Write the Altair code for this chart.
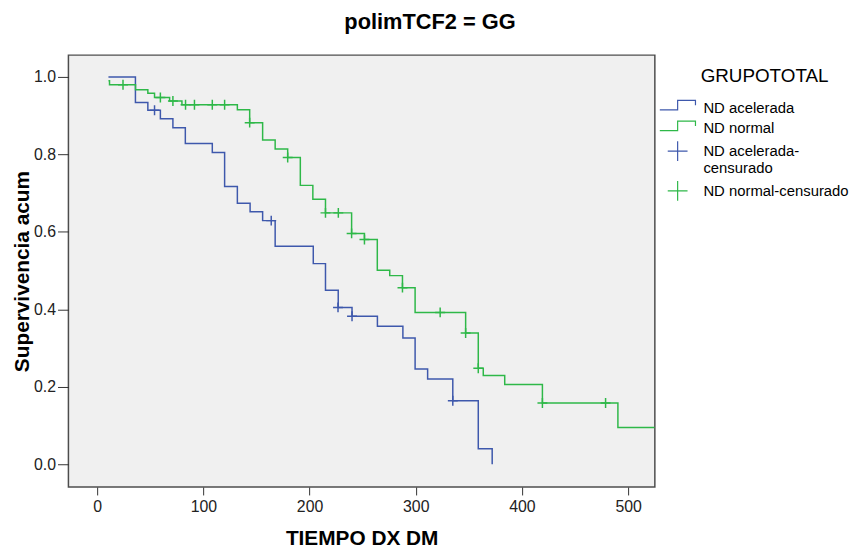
import altair as alt
import pandas as pd

# ---- data (Kaplan-Meier steps) ----
acel_t = [10.6, 36, 47.7, 59.5, 71.3, 83, 108.4, 120, 132, 144, 155.8, 167.6, 203.5, 215,
          227, 240, 263.9, 287.9, 299.4, 311.2, 334.9, 358.9, 372]
acel_s = [1.0, 0.934, 0.914, 0.892, 0.869, 0.828, 0.805, 0.717, 0.674, 0.652, 0.629, 0.563,
          0.518, 0.449, 0.405, 0.382, 0.356, 0.326, 0.246, 0.220, 0.164, 0.040, 0.0]

norm_t = [10.6, 11.6, 36.1, 47.7, 54, 68.2, 79.8, 132, 143.6, 155.8, 167.6, 179.4, 191.3,
          203.1, 215, 239.6, 251.7, 263.8, 275.5, 287.5, 299.4, 347, 358.9, 363.6, 383.8,
          419.3, 490.4, 525]
norm_s = [0.990, 0.980, 0.967, 0.958, 0.947, 0.938, 0.928, 0.915, 0.882, 0.837, 0.814, 0.792,
          0.720, 0.684, 0.649, 0.596, 0.580, 0.501, 0.487, 0.456, 0.392, 0.339, 0.248, 0.229,
          0.206, 0.158, 0.095, 0.095]

acel_cens_t = [54, 163.9, 226.8, 240, 334.9]
acel_cens_s = [0.914, 0.629, 0.405, 0.382, 0.164]

norm_cens_t = [24.3, 59.5, 71.3, 83.2, 91.6, 108.4, 120, 143.6, 179.4, 215, 227.1, 239.6,
               251.7, 287.5, 323, 347, 358.9, 419.3, 478.8]
norm_cens_s = [0.980, 0.947, 0.938, 0.928, 0.928, 0.928, 0.928, 0.882, 0.792, 0.649, 0.649,
               0.596, 0.580, 0.456, 0.392, 0.339, 0.248, 0.158, 0.158]

groups = ["ND acelerada", "ND normal", "ND acelerada-censurado", "ND normal-censurado"]
colors = ["#3E58AC", "#2EB848", "#3E58AC", "#2EB848"]
x_ticks = [0, 100, 200, 300, 400, 500]
y_ticks = [0.0, 0.2, 0.4, 0.6, 0.8, 1.0]

STEP = "M-1.8,0.22H0V-0.74H1.8V-0.25"
PLUS = "M-1,0H1M0,-1V1"
FONT = "Liberation Sans"

lines_df = pd.DataFrame({
    "t": acel_t + norm_t,
    "s": acel_s + norm_s,
    "grupo": [groups[0]] * len(acel_t) + [groups[1]] * len(norm_t),
})
cens_df = pd.DataFrame({
    "t": acel_cens_t + norm_cens_t,
    "s": acel_cens_s + norm_cens_s,
    "grupo": [groups[2]] * len(acel_cens_t) + [groups[3]] * len(norm_cens_t),
})

x_enc = alt.X("t:Q",
              scale=alt.Scale(domain=[-27.1, 525.2], nice=False, zero=False),
              axis=alt.Axis(values=x_ticks, title="TIEMPO DX DM", tickSize=8,
                            labelPadding=4, titlePadding=13, format="d"))
y_enc = alt.Y("s:Q",
              scale=alt.Scale(domain=[-0.0588, 1.0563], nice=False, zero=False),
              axis=alt.Axis(values=y_ticks, title="Supervivencia acum", tickSize=11,
                            labelPadding=2, titlePadding=1, format=".1f"))

color_scale = alt.Scale(domain=groups, range=colors)
shape_scale = alt.Scale(domain=groups, range=[STEP, STEP, PLUS, PLUS])

leg = alt.Legend(
    title="\u200b" + "\u00a0" * 8 + "GRUPOTOTAL",
    orient="none", legendX=596, legendY=12,
    titleFont=FONT, titleFontSize=19, titleFontWeight="normal", titleColor="black",
    titlePadding=11,
    labelFont=FONT, labelFontSize=15, labelColor="black", labelLimit=400,
    labelOffset=15, rowPadding=2, symbolOffset=8,
    symbolSize=400, symbolStrokeWidth=1.2, symbolFillColor="transparent",
    labelExpr="datum.label == 'ND acelerada-censurado' ? ['ND acelerada-', 'censurado'] : datum.label",
)

lines = alt.Chart(lines_df).mark_line(interpolate="step-after", strokeWidth=1.5, clip=True).encode(
    x=x_enc, y=y_enc,
    color=alt.Color("grupo:N", scale=color_scale, legend=leg),
    detail="grupo:N",
)

cens = alt.Chart(cens_df).mark_point(filled=False, size=100, strokeWidth=1.5, opacity=1, clip=True).encode(
    x=x_enc, y=y_enc,
    color=alt.Color("grupo:N", scale=color_scale, legend=leg),
    shape=alt.Shape("grupo:N", scale=shape_scale, legend=leg),
)

chart = alt.layer(lines, cens).properties(
    width=592, height=436,
    background="white",
    autosize=alt.AutoSizeParams(type="none"),
    padding={"left": 61, "top": 45, "right": 197, "bottom": 61},
    title=alt.TitleParams("polimTCF2 = GG", font=FONT, fontSize=22, fontWeight="bold",
                          color="black", anchor="middle", dx=69, offset=21),
).configure_view(
    stroke="#4d4d4d", strokeWidth=1.5, fill="#f0f0f0"
).configure_axis(
    grid=False, domain=False, tickColor="#333333", tickWidth=1,
    labelFont=FONT, labelFontSize=16, labelColor="#222222",
    titleFont=FONT, titleFontSize=21, titleFontWeight="bold", titleColor="black",
)

chart.save("out.html", embed_options={"renderer": "svg", "actions": False})
